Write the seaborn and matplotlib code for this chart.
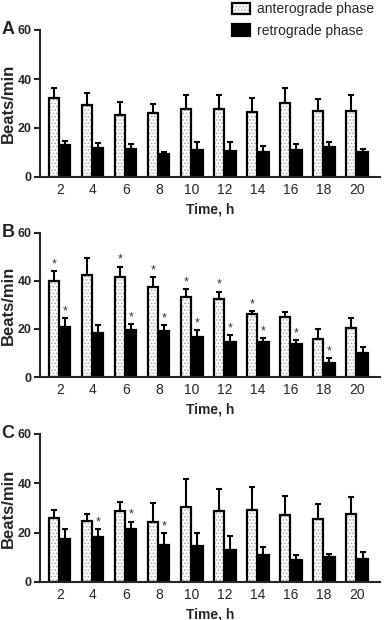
import numpy as np
import pandas as pd
import seaborn as sns
import matplotlib.pyplot as plt
from matplotlib.patches import Patch, Rectangle
from matplotlib.legend_handler import HandlerTuple

times = [2, 4, 6, 8, 10, 12, 14, 16, 18, 20]
phases = ['anterograde phase', 'retrograde phase']

# panel A
a_ante = [32.1, 29.3, 25.5, 26.2, 27.7, 27.7, 26.6, 30.3, 26.9, 26.9]
a_ante_err = [4.3, 5.1, 5.2, 3.4, 5.7, 5.9, 5.5, 5.9, 5.0, 6.4]
a_retro = [13.0, 12.0, 11.5, 9.5, 11.2, 10.5, 10.1, 11.1, 12.3, 10.1]
a_retro_err = [1.6, 1.9, 1.9, 0.7, 2.9, 3.6, 2.6, 2.3, 1.9, 1.5]
a_ante_star = [0, 0, 0, 0, 0, 0, 0, 0, 0, 0]
a_retro_star = [0, 0, 0, 0, 0, 0, 0, 0, 0, 0]

# panel B
b_ante = [39.8, 42.7, 41.6, 37.7, 33.2, 32.4, 26.1, 25.2, 15.8, 20.5]
b_ante_err = [4.4, 6.8, 4.4, 4.1, 3.6, 3.2, 1.5, 1.7, 4.4, 3.9]
b_retro = [20.9, 18.4, 19.5, 19.1, 16.7, 14.6, 14.6, 13.7, 6.0, 10.0]
b_retro_err = [3.7, 3.2, 2.5, 2.5, 2.8, 2.8, 1.7, 1.6, 1.8, 2.6]
b_ante_star = [1, 0, 1, 1, 1, 1, 1, 0, 0, 0]
b_retro_star = [1, 0, 1, 1, 1, 1, 1, 1, 1, 0]

# panel C
c_ante = [26.1, 24.9, 28.6, 24.5, 30.6, 28.6, 29.0, 27.0, 25.5, 27.5]
c_ante_err = [2.9, 2.7, 3.7, 7.6, 11.2, 9.0, 9.7, 8.0, 6.0, 6.9]
c_retro = [17.5, 18.2, 21.6, 15.1, 14.4, 12.8, 10.9, 9.0, 10.1, 9.3]
c_retro_err = [3.9, 3.2, 2.9, 4.7, 5.4, 5.7, 3.4, 1.8, 1.4, 2.7]
c_ante_star = [0, 0, 0, 0, 0, 0, 0, 0, 0, 0]
c_retro_star = [0, 1, 1, 1, 0, 0, 0, 0, 0, 0]

sns.set_style('ticks')
plt.rcParams['font.family'] = ['Liberation Sans', 'DejaVu Sans']
plt.rcParams['hatch.linewidth'] = 0.7

fig = plt.figure(figsize=(3.87, 6.2), dpi=100)

panels = [
    ('A', a_ante, a_ante_err, a_retro, a_retro_err, a_ante_star, a_retro_star, 177, 30),
    ('B', b_ante, b_ante_err, b_retro, b_retro_err, b_ante_star, b_retro_star, 377, 233),
    ('C', c_ante, c_ante_err, c_retro, c_retro_err, c_ante_star, c_retro_star, 582, 434),
]

H = 620.0
W = 387.0
hatch_col = '#a8a8a8'

for letter, ante, ante_err, retro, retro_err, ante_star, retro_star, ybot, ytop in panels:
    ax = fig.add_axes([40 / W, 1 - ybot / H, 340 / W, (ybot - ytop) / H])
    df = pd.DataFrame({
        'time': times * 2,
        'value': ante + retro,
        'phase': [phases[0]] * len(times) + [phases[1]] * len(times),
    })
    sns.barplot(data=df, x='time', y='value', hue='phase', order=times,
                palette=['white', 'black'], saturation=1, width=0.68, gap=0.1,
                errorbar=None, legend=False, edgecolor='black', linewidth=1.6, ax=ax)

    # dotted fill for the anterograde bars
    for p in ax.containers[0]:
        p.set_edgecolor(hatch_col)
        p.set_hatch('.....')
        p.set_linewidth(0)
        ax.add_patch(Rectangle(p.get_xy(), p.get_width(), p.get_height(),
                               facecolor='none', edgecolor='black', lw=1.6, zorder=p.get_zorder() + 0.1))

    for cont, means, errs, stars in [(ax.containers[0], ante, ante_err, ante_star),
                                     (ax.containers[1], retro, retro_err, retro_star)]:
        xs = np.array([p.get_x() + p.get_width() / 2 for p in cont])
        ax.errorbar(xs, means, yerr=[np.zeros(len(errs)), errs], fmt='none', ecolor='black',
                    elinewidth=1.5, capsize=2.5, capthick=1.5, zorder=1)
        for x, m, e, s in zip(xs, means, errs, stars):
            if s:
                ax.text(x, m + e + 0.3, '*', ha='center', va='bottom', fontsize=9, color='#333333')

    ax.set_ylim(0, 60)
    ax.set_yticks([0, 20, 40, 60])
    ax.set_xlim(-0.6, 9.7)
    sns.despine(ax=ax)
    for s in ['left', 'bottom']:
        ax.spines[s].set_linewidth(1.5)
    ax.tick_params(axis='y', length=4, width=1.5, labelsize=9, pad=2)
    ax.tick_params(axis='x', length=0, labelsize=10, pad=4)
    for t in ax.get_yticklabels():
        t.set_fontweight('bold')
    ax.set_xlabel('Time, h', fontsize=10, fontweight='bold', labelpad=4)
    ax.set_ylabel('Beats/min', fontsize=12, fontweight='bold', va='center')
    ax.yaxis.set_label_coords(-0.094, 0.5)
    fig.text(8 / W, 1 - ytop / H, letter, fontsize=13, fontweight='bold', ha='center', va='center')

h_ante = (Patch(facecolor='white', edgecolor=hatch_col, hatch='.....', lw=0),
          Patch(facecolor='none', edgecolor='black', lw=1.6))
h_retro = Patch(facecolor='black', edgecolor='black', lw=1.6)
fig.legend(handles=[h_ante, h_retro], labels=phases, loc='upper right',
           bbox_to_anchor=(376 / W, 1.0), frameon=False, fontsize=10,
           handlelength=1.3, handleheight=0.9, labelspacing=0.55, handletextpad=0.5,
           borderaxespad=0, borderpad=0.15,
           handler_map={tuple: HandlerTuple(ndivide=1, pad=0)})

fig.savefig('out.png', dpi=100)
